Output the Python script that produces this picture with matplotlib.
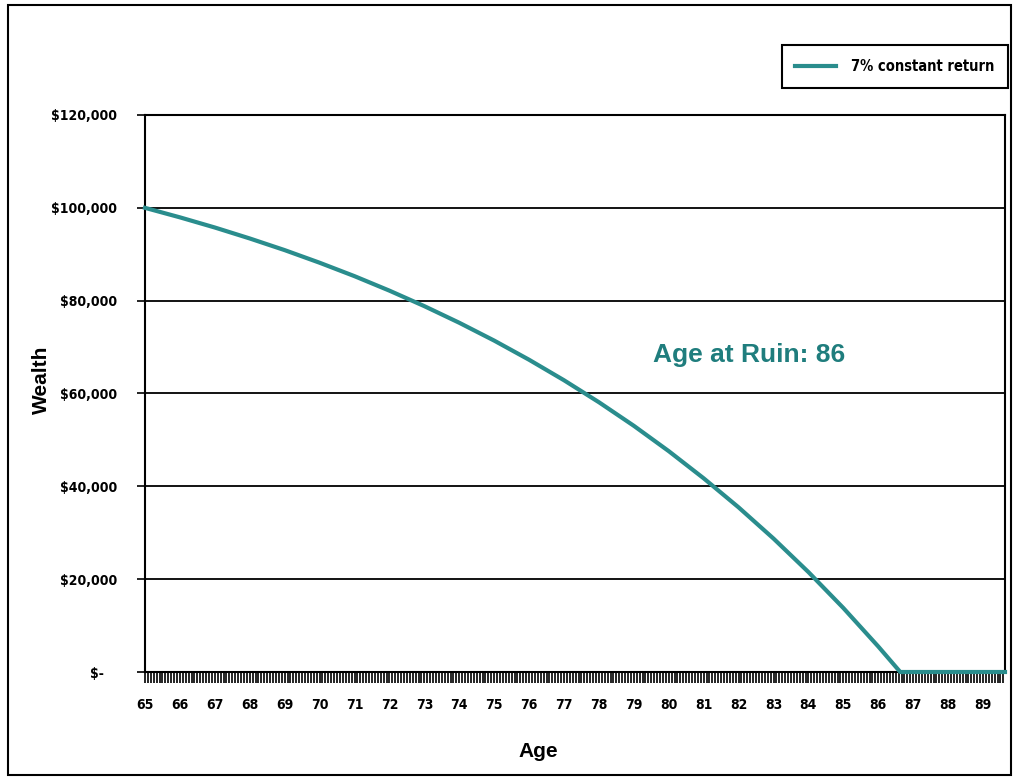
import matplotlib
matplotlib.use("Agg")
import matplotlib.pyplot as plt
from matplotlib.patches import Rectangle
from matplotlib.ticker import MultipleLocator, FixedLocator

# wealth at each birthday, plus the ruin point
ages = [65, 66, 67, 68, 69, 70, 71, 72, 73, 74, 75, 76, 77,
        78, 79, 80, 81, 82, 83, 84, 85, 86, 86.63, 87, 88, 89, 89.63]
wealth = [100000, 97950, 95760, 93400, 90890, 88175, 85280, 82160, 78820,
          75240, 71400, 67270, 62855, 58120, 53040, 47580, 41730, 35470,
          28750, 21530, 13790, 5500, 0, 0, 0, 0, 0]
yticks = [0, 20000, 40000, 60000, 80000, 100000, 120000]
ylabels = ['$-   ', '$20,000', '$40,000', '$60,000', '$80,000', '$100,000', '$120,000']
xticks = list(range(65, 90))

teal = '#2a8d8d'

fig = plt.figure(figsize=(10.18, 7.8), dpi=100)
ax = fig.add_axes([145/1018, 1-672/780, (1005-145)/1018, (672-115)/780])

ax.plot(ages, wealth, color=teal, lw=3, label='7% constant return', zorder=3, clip_on=False)

ax.set_xlim(65, 89.63)
ax.set_ylim(0, 120000)
ax.set_yticks(yticks)
ax.set_yticklabels(ylabels, fontfamily='DejaVu Sans', fontstretch='condensed',
                   fontweight='bold', fontsize=10)
ax.xaxis.set_major_locator(FixedLocator(xticks))
ax.xaxis.set_minor_locator(MultipleLocator(1/12))
ax.set_xticklabels([str(a) for a in xticks], fontfamily='DejaVu Sans', fontstretch='condensed',
                   fontweight='bold', fontsize=10)
ax.tick_params(axis='x', which='both', direction='out', length=8, width=1.2, pad=11)
ax.tick_params(axis='y', direction='out', length=6, width=1.2, pad=14)
ax.grid(axis='y', color='black', lw=1.3)
for s in ax.spines.values():
    s.set_linewidth(1.5)
ax.set_axisbelow(True)

ax.set_ylabel('Wealth', fontsize=15, fontweight='bold', fontfamily='Liberation Sans')
ax.yaxis.set_label_coords(-(145-51)/860, 0.524)
ax.set_xlabel('Age', fontsize=15, fontweight='bold', fontfamily='Liberation Sans')
ax.xaxis.set_label_coords((538-145)/860, -(742-672)/557)

ax.text(82.3, 68200, 'Age at Ruin: 86', color='#1f7d7d', fontsize=19,
        fontweight='bold', fontfamily='Liberation Sans', va='center', ha='center')

leg = fig.legend(loc='upper right', bbox_to_anchor=(1008/1018, 1-45/780), borderaxespad=0,
                 prop={'family': 'DejaVu Sans', 'stretch': 'condensed', 'weight': 'bold', 'size': 10.5},
                 fancybox=False, edgecolor='black', framealpha=1,
                 handlelength=2.8, borderpad=0.95, handletextpad=1.0)
leg.get_frame().set_linewidth(1.5)

fig.patches.append(Rectangle((8/1018, 5/780), 1003/1018, 770/780, transform=fig.transFigure,
                             fill=False, edgecolor='black', lw=1.5))

fig.savefig('out.png', dpi=100)
